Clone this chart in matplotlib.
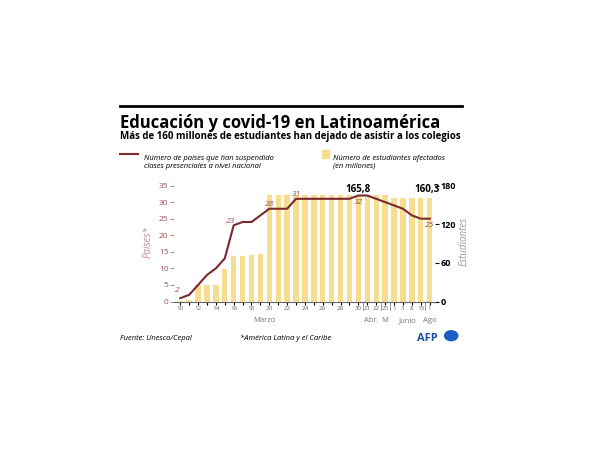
import numpy as np
import matplotlib.pyplot as plt
from matplotlib.patches import Rectangle
from matplotlib.lines import Line2D

plt.rcParams['font.family'] = 'Open Sans'

ticks = ['10', '', '12', '', '14', '', '16', '', '18', '', '20', '', '22', '', '24', '', '26', '', '28', '', '30',
         '21', '22', '25', '1', '3', '8', '15', '1']
students = [0.5, 2, 25, 25, 25, 50, 70, 71, 72, 74, 165, 165, 165, 166, 166, 166, 166, 166, 166, 166, 165.8,
            165, 165, 165, 160, 160, 160, 160, 160.3]
countries = [1, 2, 5, 8, 10, 13, 23, 24, 24, 26, 28, 28, 28, 31, 31, 31, 31, 31, 31, 31, 32,
             32, 31, 30, 29, 28, 26, 25, 25]

bar_c = '#f7dd8f'
line_c = '#7a2a2a'
lab_c = '#a05050'

fig = plt.figure(figsize=(6, 4.5), dpi=100)
ax = fig.add_axes([0.29, 0.33, 0.435, 0.265])
ax2 = ax.twinx()
ax.set_zorder(2); ax.patch.set_visible(False)
x = np.arange(len(students))
ax2.bar(x, students, width=0.6, color=bar_c)
ax.plot(x, countries, color=line_c, lw=1.5)
ax.set_xlim(-0.7, len(x) - 0.4)
ax.set_ylim(0, 36)
ax2.set_ylim(0, 36 * 180 / 35)
ax.set_yticks(range(0, 36, 5))
ax2.set_yticks([0, 60, 120, 180])
ax.set_xticks(x)
ax.set_xticklabels(ticks, fontsize=4.5, color='#666')
ax.tick_params(axis='x', length=2, pad=1)
ax.tick_params(axis='y', labelsize=6, labelcolor=lab_c, length=3, color='#999', pad=1)
ax2.tick_params(axis='y', labelsize=6.5, length=3, pad=1)
for lbl in ax2.get_yticklabels():
    lbl.set_fontweight('bold')
for a in (ax, ax2):
    for s in a.spines.values():
        s.set_visible(False)
ax.spines['bottom'].set_visible(True)
ax.spines['bottom'].set_color('#666')
ax.set_ylabel('Países*', fontsize=7, color='#c09090', style='italic', labelpad=4)
ax2.set_ylabel('Estudiantes', fontsize=7, color='#999', style='italic', labelpad=2)
for i, v in [(0, 2), (6, 23), (10, 28), (13, 31), (20, 32), (28, 25)]:
    ax.text(i - 0.3 if i in (0, 6) else i, v + (-2.5 if i in (20, 28) else 0.8), str(v),
            fontsize=6, color=lab_c, style='italic', ha='center')
ax2.text(20, 170, '165,8', fontsize=7, fontweight='bold', ha='center')
ax2.text(27.7, 170, '160,3', fontsize=7, fontweight='bold', ha='center')
for xs in (20.5, 22.5, 23.5, 27.5):
    ax.plot([xs, xs], [0, -2.5], color='#888', lw=0.6, clip_on=False)
for xm, t in [(9.5, 'Marzo'), (21.5, 'Abr.'), (23, 'M'), (25.5, 'Junio'), (28, 'Ago')]:
    ax.text(xm, -6.3, t, fontsize=5.5, color='#777', ha='center')

fig.add_artist(Line2D([0.2, 0.77], [0.765, 0.765], color='black', lw=2))
fig.text(0.2, 0.715, 'Educación y covid-19 en Latinoamérica', fontsize=12, fontweight='bold')
fig.text(0.2, 0.69, 'Más de 160 millones de estudiantes han dejado de asistir a los colegios', fontsize=7, fontweight='bold')
fig.add_artist(Line2D([0.2, 0.23], [0.657, 0.657], color=line_c, lw=1.5))
fig.text(0.24, 0.627, 'Número de países que han suspendido\nclases presenciales a nivel nacional', fontsize=5.5, style='italic', linespacing=1.1)
fig.add_artist(Rectangle((0.537, 0.648), 0.012, 0.018, color=bar_c))
fig.text(0.555, 0.627, 'Número de estudiantes afectados\n(en millones)', fontsize=5.5, style='italic', linespacing=1.1)
fig.text(0.2, 0.245, 'Fuente: Unesco/Cepal', fontsize=5.5, style='italic')
fig.text(0.4, 0.245, '*América Latina y el Caribe', fontsize=5.5, style='italic')
fig.text(0.695, 0.243, 'AFP', fontsize=8, fontweight='bold', color='#1d4fa0')
fig.add_artist(plt.Circle((0.752, 0.254), 0.011, color='#1d5fc0', transform=fig.transFigure))
fig.savefig('out.png', dpi=100, facecolor='white')
